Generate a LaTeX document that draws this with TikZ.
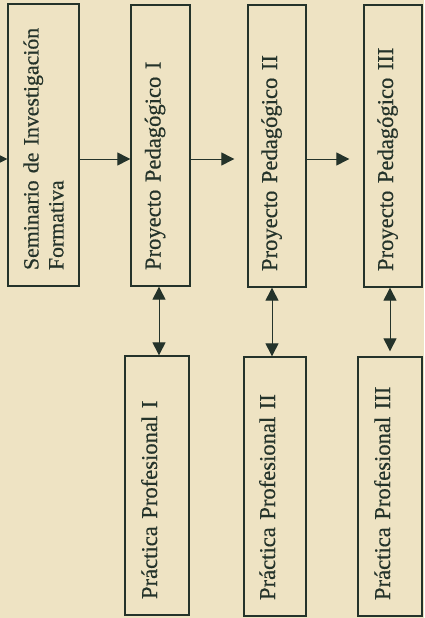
\documentclass[tikz,border=0pt]{standalone}
\usepackage{fontspec}
\setmainfont{Liberation Serif}
\newfontfamily\inkfont{Liberation Serif}[FakeBold=0.5]
\usetikzlibrary{arrows.meta}
\definecolor{paper}{HTML}{EEE3C3}
\definecolor{ink}{HTML}{24332A}
\tikzset{
  box/.style={draw=ink, line width=1.3pt, rotate=90, text=ink, align=left,
    inner xsep=16pt, inner ysep=0pt, font=\inkfont\fontsize{22.6}{25}\selectfont,
    text height=11pt, text depth=11pt},
  arr/.style={draw=ink, line width=1pt, -{Triangle[length=13pt,width=13pt]}},
  dbl/.style={draw=ink, line width=1pt, {Triangle[length=13pt,width=13pt]}-{Triangle[length=13pt,width=13pt]}}
}
\begin{document}
\begin{tikzpicture}[x=1pt,y=-1pt]
\useasboundingbox (0,0) rectangle (424,618);
\clip (0,0) rectangle (424,618);
\fill[paper] (0,0) rectangle (424,618);
% top row
\node[box, minimum width=282pt, minimum height=71pt, text width=250pt,
  text height=, text depth=, font=\inkfont\fontsize{21.8}{25}\selectfont]
  (sem) at (43.5,145) {Seminario de Investigación\\Formativa};
\node[box, minimum width=281pt, minimum height=59pt, text width=249pt] (pp1) at (160.5,145.5) {Proyecto Pedagógico I};
\node[box, minimum width=282pt, minimum height=58pt, text width=250pt] (pp2) at (277,146) {Proyecto Pedagógico II};
\node[box, minimum width=282pt, minimum height=58pt, text width=250pt] (pp3) at (393,146) {Proyecto Pedagógico III};
% bottom row
\node[box, minimum width=259pt, minimum height=64pt, text width=227pt] (pr1) at (157,485.5) {Práctica Profesional I};
\node[box, minimum width=259pt, minimum height=62pt, text width=227pt] (pr2) at (275,486.5) {Práctica Profesional II};
\node[box, minimum width=259pt, minimum height=64pt, text width=227pt] (pr3) at (390,486.5) {Práctica Profesional III};
% helper coordinates
\coordinate (h) at (0,159);
\coordinate (start) at (-12,159);
\coordinate (v1) at (159,0);
\coordinate (v2) at (272,0);
\coordinate (v3) at (390,0);
% horizontal arrows
\draw[arr] (start) -- (sem.north |- h);
\draw[arr] (sem.south |- h) -- (pp1.north |- h);
\draw[arr, shorten >=13pt] (pp1.south |- h) -- (pp2.north |- h);
\draw[arr, shorten >=14pt] (pp2.south |- h) -- (pp3.north |- h);
% vertical double arrows
\draw[dbl] (v1 |- pp1.west) -- (v1 |- pr1.east);
\draw[dbl] (v2 |- pp2.west) -- (v2 |- pr2.east);
\draw[dbl, shorten >=5pt] (v3 |- pp3.west) -- (v3 |- pr3.east);
\end{tikzpicture}
\end{document}
